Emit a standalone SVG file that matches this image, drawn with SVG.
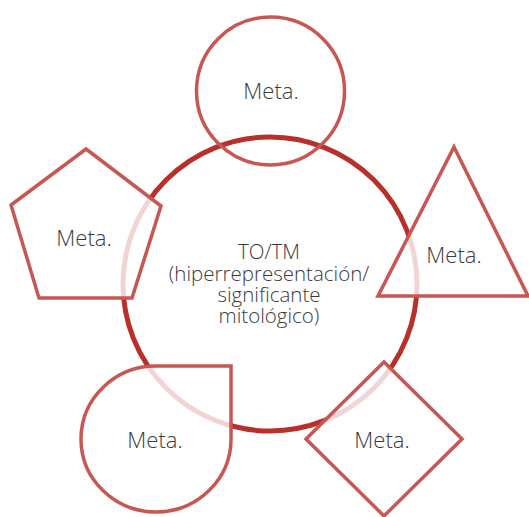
<svg xmlns="http://www.w3.org/2000/svg" width="529" height="517" viewBox="0 0 529 517">
<style>
.shape{fill:#ffffff;fill-opacity:0.8;stroke:#c65752;stroke-width:3.5;stroke-linejoin:miter}
.open{fill:none;stroke:#c65752;stroke-width:3.5}
.core{fill:#ffffff;stroke:#b7302a;stroke-width:5}
text{font-family:"Open Sans","Noto Sans","Liberation Sans",sans-serif;font-weight:300;fill:#3b3b3b;text-anchor:middle}
.meta{font-size:22px}
.lbl{font-size:20.5px}
</style>
<rect width="529" height="517" fill="#ffffff"/>
<g id="center">
<circle class="core" cx="270" cy="284" r="147"/>
</g>
<g id="top">
<circle class="open" cx="270.5" cy="91" r="74"/>
<text class="meta" x="271" y="99">Meta.</text>
</g>
<g id="pentagon">
<polygon class="shape" points="86,149 161,206 132,298 39,298 11,205"/>
<text class="meta" x="84" y="246">Meta.</text>
</g>
<g id="triangle">
<polygon class="shape" points="454,147 528,296 378,296"/>
<text class="meta" x="454" y="263">Meta.</text>
</g>
<g id="teardrop">
<path class="shape" d="M156,366 H231 V439 A75,73 0 1 1 156,366 Z"/>
<text class="meta" x="155" y="448">Meta.</text>
</g>
<g id="diamond">
<polygon class="shape" points="384,362 462,439 384,516 306,439"/>
<text class="meta" x="382" y="448">Meta.</text>
</g>
<g id="center-label">
<text class="lbl" x="269" y="259">TO/TM</text>
<text class="lbl" x="269" y="281">(hiperrepresentación/</text>
<text class="lbl" x="269" y="302">significante</text>
<text class="lbl" x="269" y="323">mitológico)</text>
</g>
<g id="connectors"></g>
</svg>
